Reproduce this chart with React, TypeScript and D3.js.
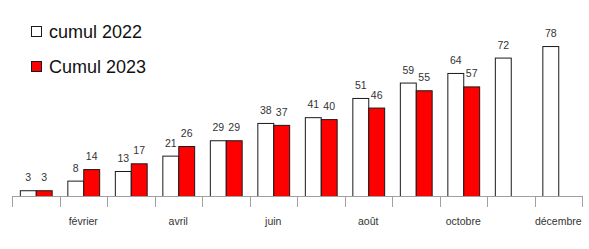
import React from 'react';
import * as d3 from 'd3';

const months = ['janvier', 'février', 'mars', 'avril', 'mai', 'juin', 'juillet', 'août', 'septembre', 'octobre', 'novembre', 'décembre'];
const cumul2022 = [3, 8, 13, 21, 29, 38, 41, 51, 59, 64, 72, 78];
const cumul2023: (number | null)[] = [3, 14, 17, 26, 29, 37, 40, 46, 55, 57, null, null];
const seriesNames = ['cumul 2022', 'Cumul 2023'];
const seriesColors = ['#ffffff', '#ff0000'];

const W = 589;
const H = 249;
const baseY = 196;

const App = () => {
  // échelle des mois
  const x = d3.scaleBand<string>().domain(months).range([12, 582]).padding(0);
  const inner = d3.scaleBand<number>().domain([0, 1]).range([x.bandwidth() * 0.165, x.bandwidth() * 0.835]).padding(0);
  const y = d3.scaleLinear().domain([0, 80]).range([baseY, baseY - 153.8]);

  const series = [cumul2022, cumul2023];

  return (
    <svg width={W} height={H} style={{ position: 'absolute', left: 0, top: 0 }} fontFamily="'Liberation Sans', Arial, sans-serif">
      <rect width={W} height={H} fill="#fff" />

      {/* barres */}
      {months.map((m, i) => (
        <g key={m} transform={`translate(${x(m)},0)`}>
          {series.map((s, k) => {
            const v = s[i];
            if (v == null) return null;
            const bx = inner(k)!;
            const bw = inner.bandwidth();
            return (
              <g key={k}>
                <rect x={bx + 0.5} y={y(v) + 0.5} width={bw} height={baseY - y(v)} fill={seriesColors[k]} stroke="#1a1a1a" strokeWidth={1} />
                <text x={bx + bw / 2 + 0.5} y={y(v) - 9} textAnchor="middle" fontSize={10.5} fill="#333">{v}</text>
              </g>
            );
          })}
        </g>
      ))}

      {/* axe X */}
      <line x1={12} x2={582} y1={baseY + 0.5} y2={baseY + 0.5} stroke="#a0a0a0" strokeWidth={1} />
      {[...months.map((m) => x(m)!), 582].map((tx, i) => (
        <line key={i} x1={Math.round(tx) + 0.5} x2={Math.round(tx) + 0.5} y1={baseY} y2={baseY + 11} stroke="#a0a0a0" strokeWidth={1} />
      ))}
      {months.map((m, i) =>
        i % 2 === 1 ? (
          <text key={m} x={x(m)! + x.bandwidth() / 2} y={225} textAnchor="middle" fontSize={10.5} fill="#333">{m}</text>
        ) : null
      )}

      {/* légende */}
      {seriesNames.map((n, k) => (
        <g key={n} transform={`translate(31,${26 + k * 35})`}>
          <rect x={0.5} y={0.5} width={10} height={10} fill={seriesColors[k]} stroke="#1a1a1a" />
          <text x={18} y={11.5} fontSize={18} fill="#111">{n}</text>
        </g>
      ))}
    </svg>
  );
};

export default App;
